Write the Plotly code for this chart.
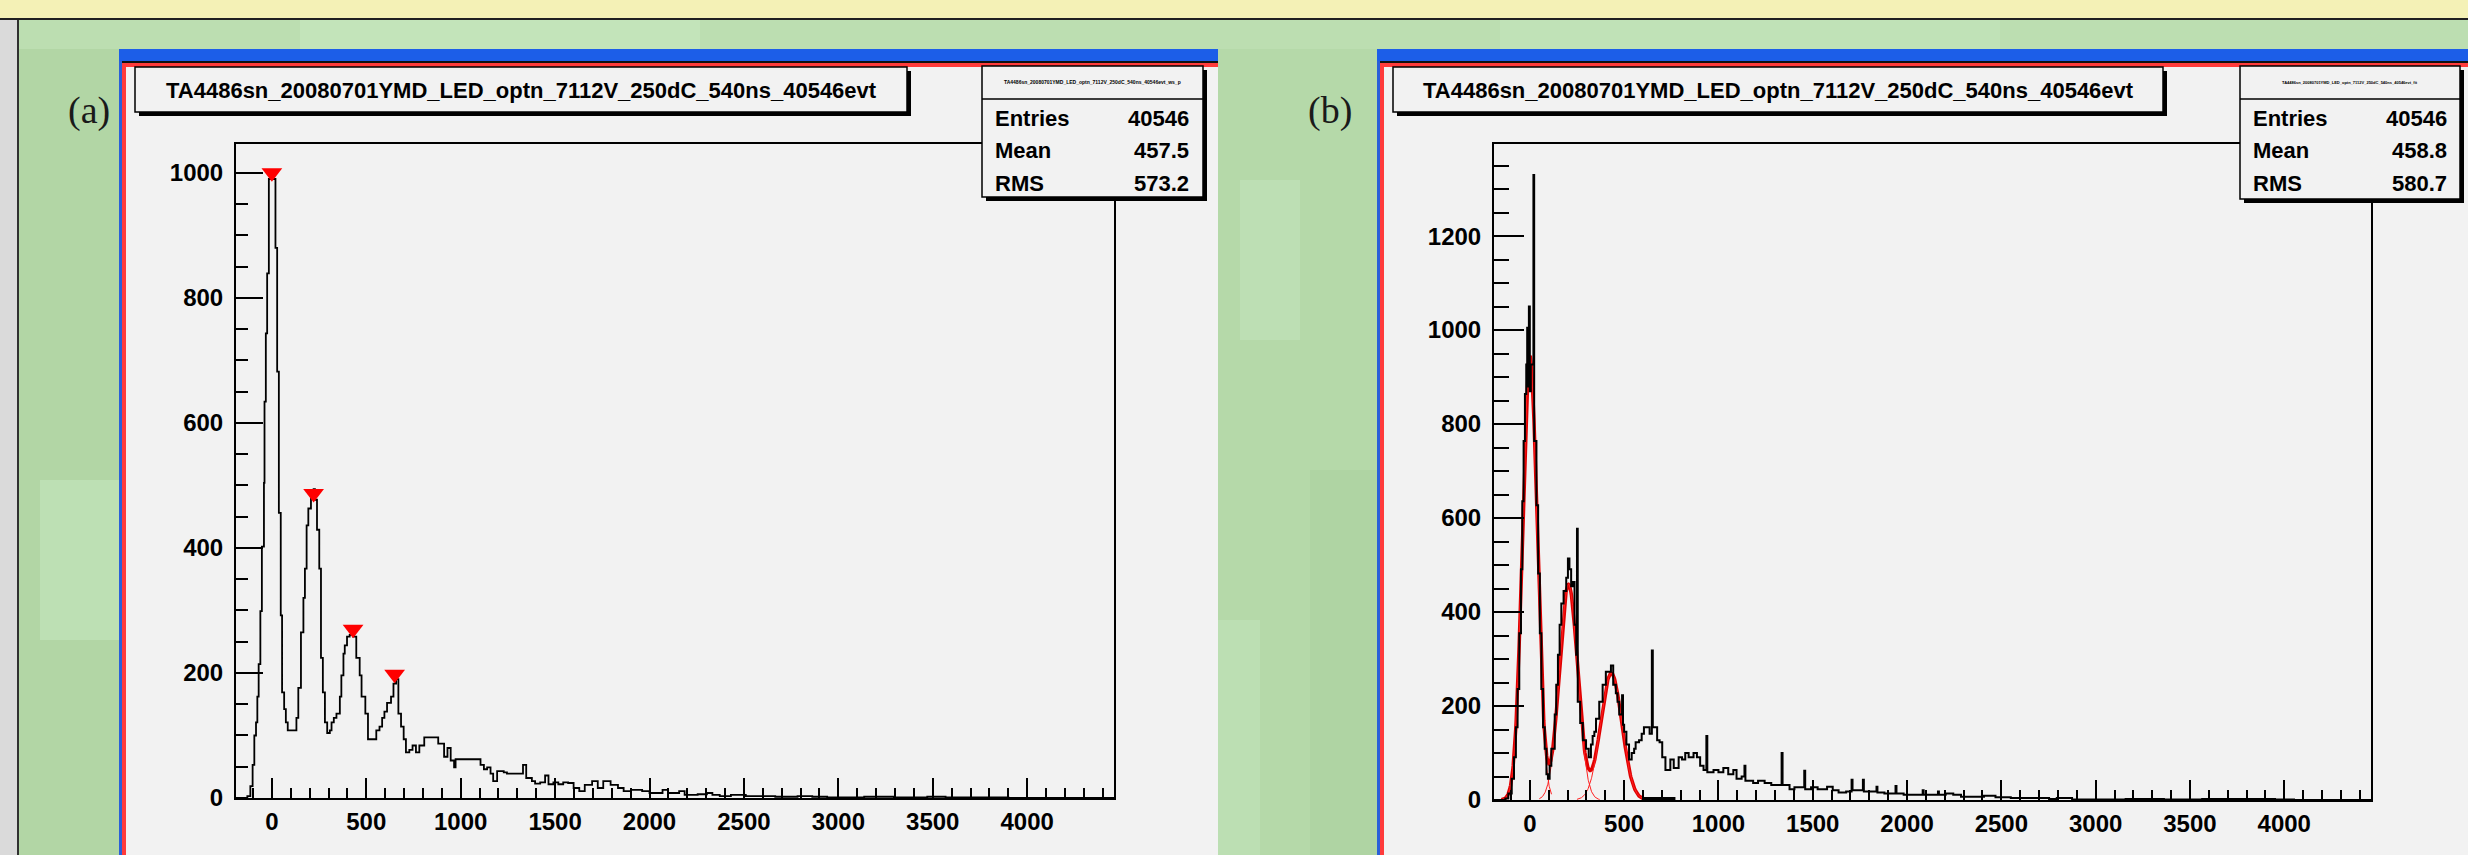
import numpy as np
import plotly.graph_objects as go

W, H = 2468, 855

# ---------------- data ----------------
title_text = "TA4486sn_20080701YMD_LED_optn_7112V_250dC_540ns_40546evt"

# Panel (a): histogram step breakpoints (ADC counts) and bin contents
a_x = [-190, -130, -114, -102, -93, -84, -77, -70, -61, -53, -42, -39, -32, -25, -16, 19, 28, 37, 47, 54,
       65, 74, 84, 130, 140, 154, 167, 175, 184, 193, 207, 221, 228, 239, 251, 260, 270, 281, 293, 307,
       316, 328, 342, 360, 368, 379, 386, 398, 412, 431, 447, 465, 475, 495, 509, 553, 570, 584, 596, 610,
       631, 644, 658, 670, 684, 698, 710, 728, 745, 763, 781, 807, 881, 912, 930, 947, 965, 973, 1105, 1123,
       1140, 1158, 1172, 1193, 1228, 1245, 1330, 1347, 1377, 1394, 1421, 1447, 1465, 1491, 1517, 1543, 1569, 1598, 1628, 1657,
       1696, 1726, 1755, 1794, 1833, 1863, 1902, 1961, 2000, 2069, 2098, 2157, 2186, 2255, 2304, 2333, 2372, 2431, 2510, 2588,
       2666, 2784, 2862, 2941, 3098, 3137, 3294, 3372, 3471, 3568, 3764, 3901, 4460]
a_y = [0, 3, 19, 53, 100, 121, 162, 214, 299, 402, 504, 634, 743, 839, 990, 880, 682, 456, 292, 169,
       142, 121, 108, 128, 176, 265, 320, 367, 436, 463, 490, 494, 477, 429, 367, 224, 169, 121, 104, 108,
       121, 128, 135, 162, 196, 231, 244, 258, 261, 258, 224, 196, 162, 135, 94, 108, 114, 128, 138, 152,
       162, 183, 190, 135, 114, 94, 73, 77, 84, 73, 84, 97, 87, 66, 80, 60, 49, 62, 53, 46,
       49, 39, 27, 43, 41, 39, 53, 32, 27, 23, 25, 36, 22, 25, 22, 25, 24, 16, 11, 21,
       27, 16, 27, 21, 16, 11, 13, 11, 8, 13, 8, 11, 5, 6, 8, 5, 3, 5, 3, 3,
       2, 3, 2, 1, 1, 2, 1, 1, 2, 1, 1, 0, 0]

# Panel (a): peak-search markers
peak_x = [0, 221, 430, 650]
peak_y = [1000, 487, 270, 198]

# Panel (b): histogram step breakpoints and bin contents
b_x = [-190, -130, -114, -96, -84, -74, -65, -56, -47, -40, -33, -26, -19, -14, -9, -5, 0, 5, 19, 23,
       35, 44, 53, 61, 70, 79, 88, 96, 105, 114, 132, 140, 149, 158, 167, 179, 193, 202, 210, 219,
       228, 237, 246, 250, 254, 267, 281, 298, 312, 324, 333, 342, 351, 368, 386, 403, 430, 442, 456, 465,
       474, 489, 494, 500, 512, 526, 540, 553, 561, 579, 593, 605, 635, 647, 652, 675, 688, 702, 719, 745,
       763, 789, 807, 824, 842, 868, 886, 903, 921, 936, 941, 974, 1000, 1026, 1052, 1079, 1096, 1123, 1138, 1143,
       1184, 1210, 1245, 1280, 1335, 1340, 1377, 1403, 1455, 1460, 1491, 1526, 1576, 1606, 1637, 1677, 1706, 1711, 1766, 1771,
       1838, 1843, 1880, 1939, 1944, 1982, 2083, 2088, 2164, 2169, 2205, 2245, 2286, 2408, 2469, 2550, 2753, 2794, 2875, 3159,
       3362, 3565, 3809, 3951, 4052, 4460]
b_y = [0, 3, 14, 45, 91, 155, 236, 355, 491, 636, 764, 864, 927, 1005, 880, 1050, 870, 927, 1330, 764,
       627, 482, 355, 236, 155, 109, 55, 45, 73, 109, 182, 245, 309, 373, 418, 445, 473, 514, 491, 455,
       464, 373, 309, 577, 209, 164, 127, 109, 91, 118, 136, 145, 173, 209, 245, 273, 286, 245, 227, 209,
       182, 223, 160, 145, 118, 86, 100, 109, 123, 127, 141, 155, 141, 318, 155, 127, 123, 91, 64, 86,
       68, 91, 86, 100, 91, 100, 91, 73, 64, 136, 59, 64, 59, 68, 55, 64, 45, 50, 73, 41,
       36, 41, 36, 32, 100, 32, 23, 27, 62, 23, 27, 23, 28, 21, 16, 18, 43, 21, 43, 18,
       28, 16, 14, 30, 14, 11, 21, 11, 18, 11, 14, 11, 7, 9, 6, 4, 2, 4, 1, 2,
       1, 2, 2, 1, 0, 0]

# Panel (b): Gaussian fit parameters (amplitude, mean, sigma) and drawing ranges
fit_amp = [945, 459, 270]
fit_mean = [0, 205, 432]
fit_sigma = [39, 48, 56]
fit_lo = [-150, 50, 250]
fit_hi = [115, 370, 620]
fit_sum_range = [-150, 620]
flat_seg = [605, 772]

stats_a = [("Entries", "40546"), ("Mean", "457.5"), ("RMS", "573.2")]
stats_b = [("Entries", "40546"), ("Mean", "458.8"), ("RMS", "580.7")]

x_range = [-190, 4460]
xticks = [0, 500, 1000, 1500, 2000, 2500, 3000, 3500, 4000]
ya_range = [0, 1046]
yb_range = [0, 1396]

# ---------------- helpers ----------------
def px(x):
    return x / W

def py(y):
    return 1 - y / H

def rect(x0, y0, x1, y1, fill, line=None, lw=0, layer="above"):
    return dict(type="rect", xref="paper", yref="paper",
                x0=px(x0), x1=px(x1), y0=py(y1), y1=py(y0),
                fillcolor=fill, line=dict(width=lw, color=line or fill), layer=layer)

def hline(x0, x1, y, color, lw, layer="above"):
    return dict(type="line", xref="paper", yref="paper", x0=px(x0), x1=px(x1), y0=py(y), y1=py(y),
                line=dict(color=color, width=lw), layer=layer)

TF = "Liberation Sans, Arial, Helvetica, sans-serif"
SERIF = "Liberation Serif, Times New Roman, serif"

fig = go.Figure()

# histogram (a)
fig.add_trace(go.Scatter(x=a_x, y=a_y, mode="lines", line=dict(shape="hv", color="black", width=1.8),
                         xaxis="x", yaxis="y", hoverinfo="skip", showlegend=False))
fig.add_trace(go.Scatter(x=peak_x, y=peak_y, mode="markers",
                         marker=dict(symbol="triangle-down", size=18, color="#ff0000"),
                         xaxis="x", yaxis="y", hoverinfo="skip", showlegend=False))

# fit curves (b) drawn beneath the histogram
def gauss(xv, a, m, s):
    return a * np.exp(-0.5 * ((xv - m) / s) ** 2)

xs = np.linspace(fit_sum_range[0], fit_sum_range[1], 400)
ysum = sum(gauss(xs, a, m, s) for a, m, s in zip(fit_amp, fit_mean, fit_sigma))
fig.add_trace(go.Scatter(x=xs, y=ysum, mode="lines", line=dict(color="#e00000", width=3.5),
                         xaxis="x2", yaxis="y2", hoverinfo="skip", showlegend=False))
for a, m, s, lo, hi in zip(fit_amp, fit_mean, fit_sigma, fit_lo, fit_hi):
    xg = np.linspace(lo, hi, 200)
    fig.add_trace(go.Scatter(x=xg, y=gauss(xg, a, m, s), mode="lines", line=dict(color="#ff2020", width=1),
                             xaxis="x2", yaxis="y2", hoverinfo="skip", showlegend=False))

# histogram (b)
fig.add_trace(go.Scatter(x=b_x, y=b_y, mode="lines", line=dict(shape="hv", color="black", width=2),
                         xaxis="x2", yaxis="y2", hoverinfo="skip", showlegend=False))
fig.add_trace(go.Scatter(x=flat_seg, y=[0, 0], mode="lines", line=dict(color="black", width=6),
                         xaxis="x2", yaxis="y2", hoverinfo="skip", showlegend=False, cliponaxis=False))

# ---------------- axes ----------------
tickfont = dict(family=TF, size=24, color="black", weight="bold")

def xaxis(domain, anchor):
    return dict(domain=domain, anchor=anchor, range=x_range, tickvals=xticks, ticktext=[str(v) for v in xticks],
                ticks="inside", ticklen=20, tickwidth=1.5, tickcolor="black",
                minor=dict(ticks="inside", dtick=100, tick0=0, ticklen=10, tickwidth=1.5, tickcolor="black", showgrid=False),
                showline=True, linecolor="black", linewidth=2, mirror=True, automargin=False,
                showgrid=False, zeroline=False, tickfont=tickfont, ticklabelstandoff=1, fixedrange=True)

def yaxis(domain, anchor, rng, ticklen, minlen):
    return dict(domain=domain, anchor=anchor, range=rng, dtick=200, tick0=0,
                ticks="inside", ticklen=ticklen, tickwidth=1.5, tickcolor="black",
                minor=dict(ticks="inside", dtick=50, tick0=0, ticklen=minlen, tickwidth=1.5, tickcolor="black", showgrid=False),
                showline=True, linecolor="black", linewidth=2, mirror=True, automargin=False,
                showgrid=False, zeroline=False, tickfont=tickfont, ticklabelstandoff=6, fixedrange=True)

fig.update_layout(
    width=W, height=H, margin=dict(l=0, r=0, t=0, b=0, pad=0, autoexpand=False),
    paper_bgcolor="#b6d9aa", plot_bgcolor="rgba(0,0,0,0)", showlegend=False,
    xaxis=xaxis([px(236), px(1114)], "y"),
    yaxis=yaxis([py(798), py(144)], "x", ya_range, 27, 12),
    xaxis2=xaxis([px(1494), px(2371)], "y2"),
    yaxis2=yaxis([py(800), py(144)], "x2", yb_range, 30, 15),
)

# ---------------- background & window chrome ----------------
shapes = []
# soft texture blocks of the green slide background
for (x0, y0, x1, y1, c) in [
    (18, 19, 120, 855, "#b2d6a5"), (18, 19, 2468, 49, "#bcdeb1"), (40, 480, 120, 640, "#bde0b4"),
    (1218, 49, 1378, 855, "#b5d9a9"), (1240, 180, 1300, 340, "#bddfb4"), (1310, 470, 1378, 855, "#afd4a3"),
    (1218, 620, 1260, 855, "#bcdfb3"), (300, 19, 700, 49, "#c3e4ba"), (1500, 19, 2000, 49, "#c0e2b7"),
]:
    shapes.append(rect(x0, y0, x1, y1, c, layer="below"))
shapes.append(rect(0, 0, W, 18, "#f4f1b6", layer="below"))
shapes.append(rect(0, 18, W, 20, "#202020", layer="below"))
shapes.append(rect(0, 20, 17, H, "#dadada", layer="below"))
shapes.append(rect(17, 20, 19, H, "#303030", layer="below"))

def window(x0, x1):
    s = []
    s.append(rect(x0, 49, x1, 61, "#1c5ee8", layer="below"))
    s.append(rect(x0, 61, x1, 63, "#111111", layer="below"))
    s.append(rect(x0, 63, x1, 67, "#ff3b3b", layer="below"))
    s.append(rect(x0, 61, x0 + 3, H, "#2a5fd8", layer="below"))
    s.append(rect(x0 + 3, 63, x0 + 7, H, "#ff3b3b", layer="below"))
    s.append(rect(x0 + 7, 67, x1, H, "#f2f2f2", layer="below"))
    return s

shapes += window(119, 1218)
shapes += window(1377, W + 2)

def box(x0, y0, x1, y1):
    return [rect(x0 + 4, y0 + 4, x1 + 4, y1 + 4, "#000000"),
            rect(x0, y0, x1, y1, "#f2f2f2", line="#000000", lw=1.5)]

# title boxes
shapes += box(135, 67, 907, 112)
shapes += box(1393, 67, 2163, 112)
# stats boxes
shapes += box(982, 66, 1203, 197)
shapes.append(hline(982, 1203, 99, "#000000", 1.5))
shapes += box(2240, 66, 2460, 199)
shapes.append(hline(2240, 2460, 99, "#000000", 1.5))

fig.update_layout(shapes=shapes)

# ---------------- annotations ----------------
ann = []

def text(x, y, t, size, family=TF, xanchor="center", weight="bold", color="black"):
    ann.append(dict(xref="paper", yref="paper", x=px(x), y=py(y), text=t, showarrow=False,
                    xanchor=xanchor, yanchor="middle",
                    font=dict(family=family, size=size, color=color, weight=weight)))

text(521, 90, title_text, 22)
text(1778, 90, title_text, 22)
text(89, 110, "(a)", 38, family=SERIF, weight="normal", color="#1a1a1a")
text(1330, 110, "(b)", 38, family=SERIF, weight="normal", color="#1a1a1a")

text(1092, 82, title_text + "_ws_p", 5)
text(2350, 82, title_text + "_fit", 4)

for i, (k, v) in enumerate(stats_a):
    yy = 118 + i * 32.5
    text(993, yy, k, 22, xanchor="left")
    text(1191, yy, v, 22, xanchor="right")
for i, (k, v) in enumerate(stats_b):
    yy = 118 + i * 32.5
    text(2251, yy, k, 22, xanchor="left")
    text(2449, yy, v, 22, xanchor="right")

fig.update_layout(annotations=ann)

fig.write_html("out.html", config={"displayModeBar": False},
               post_script="document.body.style.margin='0';document.body.style.padding='0';document.body.style.overflow='hidden';")
